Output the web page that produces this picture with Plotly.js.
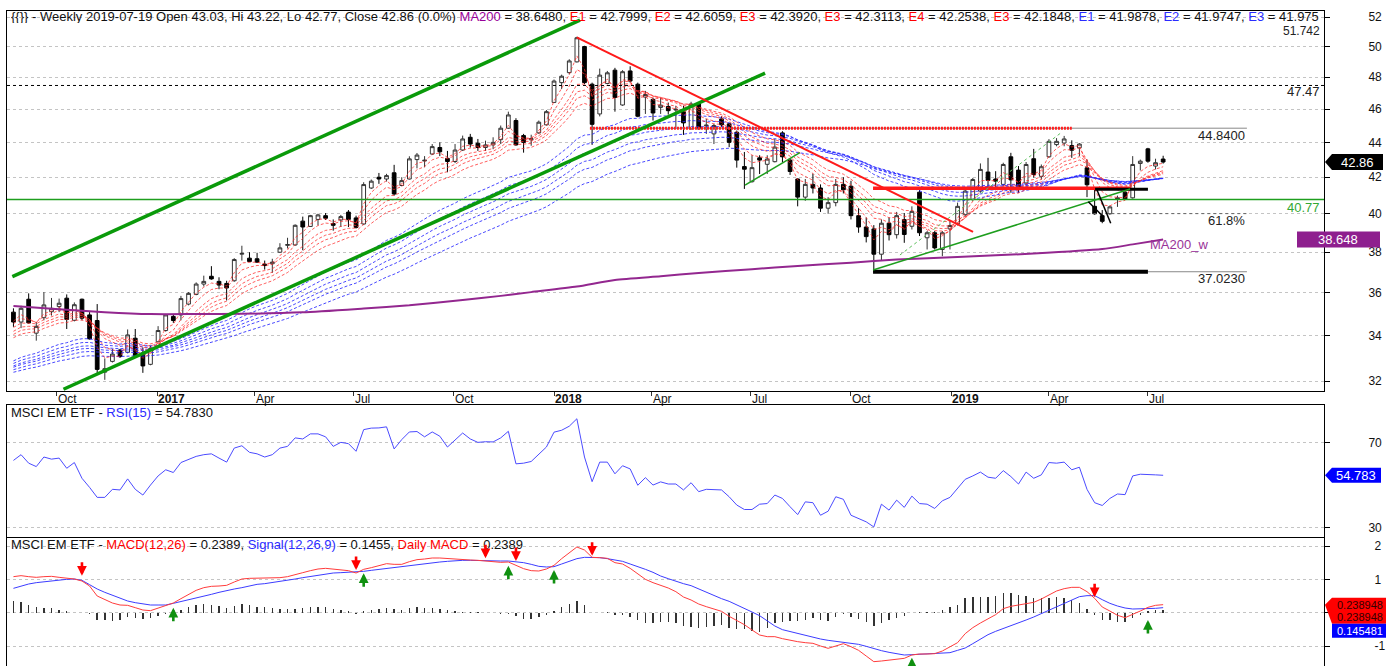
<!DOCTYPE html>
<html><head><meta charset="utf-8">
<script src="https://cdn.plot.ly/plotly-3.0.1.min.js"></script>
<style>html,body{margin:0;padding:0;background:#fff;}#chart{width:1386px;height:666px;}</style>
</head><body><div id="chart"></div>
<script>
// ---------- DATA ----------
const firstWeekUTC = Date.UTC(2016, 7, 22); // weekly candles (Mondays)
const opens = [35.08,34.62,35.69,34.11,34.82,35.10,35.34,35.74,34.70,35.69,
34.95,34.69,32.38,32.85,33.35,33.25,33.88,33.20,32.72,33.72,
34.23,34.88,34.95,35.46,35.92,36.42,36.80,36.55,36.45,36.58,
37.90,37.70,37.67,37.40,37.42,38.00,38.35,38.37,39.61,39.33,
39.70,39.90,39.48,39.67,40.09,39.78,39.46,41.40,42.00,41.90,
42.25,41.54,41.90,43.00,42.92,43.32,43.70,43.07,42.89,43.55,
44.30,43.95,43.70,43.85,44.16,44.84,45.30,44.40,44.15,44.56,
45.04,46.41,47.65,48.29,48.99,50.00,47.55,45.70,47.60,48.45,
46.25,48.40,47.55,46.74,46.60,46.10,46.16,45.94,45.84,44.80,
46.31,44.98,44.50,45.40,45.10,44.60,42.60,41.75,43.10,42.73,
42.88,44.56,42.97,41.90,40.90,41.60,41.40,40.30,40.60,41.60,
41.50,39.90,39.30,39.20,37.90,39.50,38.90,39.69,39.34,41.17,
38.74,39.00,38.14,39.20,39.47,39.95,40.77,41.23,42.29,41.90,
41.60,43.16,42.40,41.68,43.05,42.05,43.16,43.87,43.96,43.81,
43.68,42.53,40.40,39.90,40.00,40.77,41.17,40.86,42.78,43.62,
42.63,43.03];
const highs = [35.26,35.38,35.97,34.62,36.03,35.75,35.72,35.92,35.54,35.72,
35.08,35.46,32.98,33.40,33.40,34.28,34.30,33.47,33.55,34.43,
35.00,34.95,35.85,36.03,36.50,36.83,37.30,36.75,36.58,37.70,
38.33,38.00,37.97,37.58,37.67,38.46,38.74,39.44,39.85,39.94,
40.00,40.04,39.70,39.94,40.20,39.90,41.72,41.87,42.24,42.19,
42.70,42.00,43.19,43.38,43.20,43.90,44.00,43.50,43.90,44.40,
44.50,44.20,44.10,44.30,45.00,45.84,45.44,44.50,44.45,45.30,
45.94,47.85,48.16,49.16,50.66,50.05,47.65,48.55,48.40,48.60,
48.45,48.70,47.65,47.13,46.70,46.70,46.40,46.20,46.20,46.45,
46.40,45.40,45.10,45.56,45.16,44.70,43.44,43.25,43.25,43.25,
44.20,44.66,43.07,41.94,41.90,42.20,41.60,40.90,41.90,42.00,
41.80,40.30,39.80,39.40,39.70,39.80,40.10,40.04,40.40,41.32,
39.09,39.09,39.09,39.60,40.60,41.40,41.96,42.78,43.10,42.34,
42.82,43.39,42.63,42.86,43.62,42.72,44.19,44.25,44.38,44.12,
43.96,43.00,41.42,40.20,40.44,40.98,41.32,43.20,43.00,43.68,
43.05,43.22];
const lows = [34.40,34.34,34.55,33.77,34.70,34.92,35.08,34.30,34.65,34.70,
33.82,32.35,32.05,32.80,33.00,33.20,33.06,32.35,32.68,33.70,
34.18,34.58,34.70,35.40,35.88,36.30,36.63,36.17,35.63,36.53,
37.58,37.50,37.47,37.13,36.97,37.97,38.19,38.33,38.10,39.30,
39.39,39.67,39.11,39.30,39.30,39.22,39.40,41.35,41.63,41.76,
40.98,41.50,41.87,42.50,42.56,43.26,43.20,42.28,42.80,43.50,
43.70,43.50,43.50,43.60,43.90,44.80,43.80,43.40,43.80,44.50,
45.00,46.37,47.25,48.18,48.95,47.55,43.85,45.55,47.55,45.84,
46.20,47.65,45.50,45.70,45.30,45.70,45.66,44.90,44.44,44.76,
44.76,44.50,43.90,44.90,43.72,42.54,41.35,41.70,42.18,42.18,
42.84,42.84,42.13,40.40,40.70,41.10,40.10,40.00,40.40,41.10,
39.70,39.00,38.50,37.02,37.60,38.60,38.70,38.48,39.17,38.83,
38.14,38.14,37.80,38.14,39.38,39.86,40.68,41.14,41.32,41.28,
41.50,41.14,41.14,41.53,41.98,41.87,43.10,43.77,43.77,43.10,
43.20,40.90,39.95,39.50,39.95,40.37,40.75,40.82,42.38,42.82,
42.44,42.77];
const closes = [34.62,35.26,34.58,34.42,35.42,35.26,35.50,34.74,35.43,34.80,
33.85,32.50,32.53,33.17,33.06,34.03,33.10,32.65,33.42,34.23,
34.95,34.69,35.72,35.97,36.42,36.55,36.67,36.37,36.23,37.63,
37.94,37.53,37.50,37.33,37.50,38.22,38.39,39.39,39.30,39.90,
39.94,39.76,39.39,39.85,39.70,39.28,41.59,41.78,41.90,42.09,
41.07,41.81,43.04,43.26,42.96,43.75,43.45,42.89,43.55,44.20,
43.90,43.70,43.85,44.00,44.84,45.64,43.85,44.00,44.22,45.20,
45.84,47.75,48.06,49.05,50.59,47.65,45.07,48.13,48.28,46.72,
48.35,47.75,45.56,46.90,45.76,46.24,45.90,45.98,45.16,46.31,
44.80,45.02,45.00,45.04,44.00,42.97,42.45,42.54,42.97,43.03,
43.72,43.16,42.32,40.90,41.60,41.40,40.30,40.60,41.60,41.30,
39.90,39.30,38.80,37.90,39.50,38.90,39.90,38.91,40.13,39.00,
39.00,38.22,39.00,39.38,40.40,41.23,41.87,42.44,41.82,41.78,
42.72,41.85,41.32,42.72,42.15,42.59,44.06,44.06,44.20,43.54,
43.90,41.58,40.00,39.60,40.37,40.86,40.80,42.72,42.91,42.91,
42.82,42.86];

// Guppy-style EMA ribbons (periods and starting values read at left edge)
const redPeriods = [3,5,8,10,12,15];
const redSeeds = [34.7,34.5,34.3,34.1,33.95,33.8];
const bluePeriods = [30,35,40,45,50,60];
const blueSeeds = [32.75,32.65,32.55,32.5,32.4,32.3];

// MA200 (weekly) read at sample candles
const ma200Idx = [0,6,12,18,24,30,38,46,52,59,64,68,74,79,85,90,97,103,110,116,124,134,143,147,151];
const ma200Vals = [35.37,35.22,35.08,34.99,34.99,35.0,35.07,35.25,35.4,35.65,35.85,36.03,36.3,36.62,36.8,36.96,37.15,37.31,37.47,37.63,37.76,37.93,38.16,38.4,38.65];

const rsi = [61.8,64.5,60.5,58.9,63.4,62.4,62.9,58.1,60.8,53.4,
49.1,44.4,44.4,48.2,47.9,53.1,48.2,45.5,50.2,54.5,
57.4,56.1,60.8,62.1,63.7,64.5,64.9,62.9,61.0,67.6,
68.7,65.6,64.9,63.4,64.5,67.6,68.4,72.4,71.9,74.3,
74.3,72.9,68.4,70.3,69.7,66.1,76.3,77.0,77.1,77.6,
67.2,71.6,75.2,75.4,72.9,75.2,73.2,68.1,71.3,74.7,
71.9,70.3,70.6,70.5,72.4,75.5,60.2,60.5,61.3,64.5,
68.1,75.1,76.0,77.9,81.4,63.4,51.8,61.0,61.0,55.5,
59.3,57.8,50.1,53.7,50.2,51.7,50.7,50.7,47.9,51.3,
47.1,48.2,48.2,47.9,44.7,40.8,38.7,38.7,41.2,41.5,
45.5,43.9,40.0,36.3,42.3,41.9,36.0,37.9,44.7,43.5,
36.0,34.4,32.9,30.5,41.2,38.4,43.1,39.7,45.0,41.5,
41.2,39.2,42.8,44.4,48.7,52.9,54.5,56.3,53.9,53.4,
57.0,54.2,50.7,56.3,53.4,55.0,60.8,60.5,61.0,57.4,
58.6,48.2,41.9,40.6,43.9,46.0,45.7,54.5,55.3,55.3,
55.0,54.8];

const macd = [1.08,1.11,1.08,1.06,1.08,1.09,1.06,1.04,1.01,0.95,
0.80,0.50,0.39,0.29,0.23,0.22,0.15,0.08,0.06,0.13,
0.20,0.29,0.42,0.55,0.67,0.75,0.79,0.80,0.82,0.92,
1.01,1.03,1.03,1.03,1.03,1.05,1.08,1.13,1.20,1.26,
1.31,1.33,1.30,1.28,1.26,1.19,1.30,1.35,1.41,1.47,
1.45,1.45,1.53,1.59,1.61,1.64,1.64,1.62,1.61,1.60,
1.58,1.57,1.55,1.53,1.51,1.52,1.42,1.32,1.26,1.25,
1.31,1.42,1.62,1.80,1.97,1.88,1.66,1.65,1.63,1.50,
1.46,1.33,1.17,1.00,0.90,0.83,0.74,0.63,0.47,0.38,
0.26,0.18,0.10,0.04,-0.11,-0.24,-0.36,-0.52,-0.67,-0.72,
-0.72,-0.78,-0.83,-0.87,-0.90,-0.92,-1.00,-1.07,-1.00,-0.93,
-1.02,-1.13,-1.30,-1.47,-1.45,-1.42,-1.39,-1.37,-1.27,-1.24,
-1.24,-1.23,-1.15,-1.03,-0.90,-0.63,-0.45,-0.31,-0.18,-0.06,
0.12,0.19,0.23,0.28,0.31,0.41,0.52,0.65,0.72,0.76,
0.76,0.63,0.43,0.17,0.05,-0.08,-0.15,-0.06,0.05,0.16,
0.22,0.24];
const signal = [0.73,0.80,0.86,0.90,0.93,0.96,0.99,1.00,1.01,0.97,
0.84,0.71,0.61,0.53,0.44,0.35,0.30,0.27,0.23,0.23,
0.23,0.28,0.33,0.39,0.44,0.50,0.55,0.61,0.67,0.71,
0.75,0.80,0.85,0.87,0.90,0.93,0.97,1.01,1.05,1.09,
1.13,1.16,1.19,1.20,1.21,1.22,1.24,1.27,1.30,1.33,
1.35,1.37,1.40,1.43,1.47,1.50,1.52,1.54,1.56,1.57,
1.57,1.56,1.56,1.55,1.55,1.55,1.53,1.50,1.45,1.39,
1.37,1.38,1.46,1.53,1.62,1.66,1.66,1.65,1.62,1.58,
1.54,1.46,1.39,1.30,1.21,1.10,1.02,0.94,0.87,0.81,
0.71,0.60,0.51,0.42,0.34,0.24,0.13,0.02,-0.09,-0.25,
-0.40,-0.51,-0.57,-0.62,-0.68,-0.75,-0.79,-0.83,-0.86,-0.88,
-0.90,-0.95,-1.01,-1.08,-1.14,-1.19,-1.24,-1.27,-1.26,-1.25,
-1.25,-1.24,-1.22,-1.20,-1.13,-1.06,-0.93,-0.79,-0.66,-0.56,
-0.48,-0.39,-0.31,-0.22,-0.13,-0.03,0.07,0.19,0.29,0.39,
0.48,0.51,0.51,0.39,0.28,0.20,0.14,0.11,0.11,0.11,
0.13,0.15];
const sellIdx = [9,45,62,66,76,142];
const sellVal = [1.11,1.28,1.63,1.55,1.71,0.46];
const buyIdx = [21,46,65,71,118,149];
const buyVal = [0.15,1.18,1.41,1.28,-1.35,-0.22];

// Drawn trend lines / levels (date, price)
const upperChX = ['2016-08-21','2018-01-24 21:00'], upperChY = [36.78,51.80];
const lowerChX = ['2016-10-07','2018-07-14'], lowerChY = [31.65,48.26];
const midGreenX = ['2018-06-25 14:00','2018-08-15'], midGreenY = [41.56,43.40];
const supportX = ['2018-10-21 07:00','2019-06-14 14:00'], supportY = [37.11,41.34];
const dashGreenX = ['2018-11-15','2019-04-13'], dashGreenY = [37.86,44.61];
const resistX = ['2018-01-21 22:00','2019-01-21 05:00'], resistY = [50.62,39.05];
const level4484 = 44.84, level4138 = 41.38, level3702 = 37.023, level4133 = 41.33;
const level4747 = 47.47, level4077 = 40.77, fib618 = 40.009, level51742 = 51.742;
const arrow1X = ['2019-05-07 05:00','2019-05-21'], arrow1Y = [40.65,39.84];
const arrow2X = ['2019-05-14 22:00','2019-05-27 19:00'], arrow2Y = [41.33,39.50];

const monthTicks = ['2016-10-01','2017-01-01','2017-04-01','2017-07-01','2017-10-01','2018-01-01','2018-04-01','2018-07-01','2018-10-01','2019-01-01','2019-04-01','2019-07-01'];
const monthLabels = ['Oct','<b>2017</b>','Apr','Jul','Oct','<b>2018</b>','Apr','Jul','Oct','<b>2019</b>','Apr','Jul'];
const priceTicks = [32,34,36,38,40,42,44,46,48,50,52];

// ---------- BUILD ----------
const dates = opens.map((_, i) => new Date(firstWeekUTC + i * 7 * 864e5).toISOString().slice(0, 10));
const xr = ['2016-08-16 02:00', '2019-12-09 21:00'];
function ema(src, p, seed) { const a = 2 / (p + 1); let v = seed; return src.map(c => (v = v + a * (c - v))); }

const W = 1386, H = 666, ML = 7, MR = 62, MT = 11, MB = 0;
const PW = W - ML - MR, PH = H - MT - MB;
const pxX = px => (px - ML) / PW;
const pyY = py => (H - MB - py) / PH;
const mainDom = [pyY(391), 1], rsiDom = [pyY(537), pyY(405)], macdDom = [0, pyY(537)];
const mainR = [Math.log10(31.576), Math.log10(52.43)];
const rsiR = [25.76, 87.88], macdR = [-1.6, 2.27];
const pyMain = v => 391 - (Math.log10(v) - mainR[0]) / (mainR[1] - mainR[0]) * 380;
const pyRsi = v => 537 - (v - rsiR[0]) / (rsiR[1] - rsiR[0]) * 132;
const pyMacd = v => 666 - (v - macdR[0]) / (macdR[1] - macdR[0]) * 129;

const traces = [];
bluePeriods.forEach((p, k) => traces.push({type:'scatter', mode:'lines', x:dates, y:ema(closes, p, blueSeeds[k]), xaxis:'x', yaxis:'y', line:{color:'rgba(40,40,255,0.85)', width:1, dash:'3px,2px'}, hoverinfo:'skip'}));
redPeriods.forEach((p, k) => traces.push({type:'scatter', mode:'lines', x:dates, y:ema(closes, p, redSeeds[k]), xaxis:'x', yaxis:'y', line:{color:'rgba(255,40,40,0.75)', width:1, dash:'3px,2px'}, hoverinfo:'skip'}));
traces.push({type:'scatter', mode:'lines', x:ma200Idx.map(i => dates[i]), y:ma200Vals, xaxis:'x', yaxis:'y', line:{color:'#93278f', width:2, shape:'spline', smoothing:0.6}});
traces.push({type:'candlestick', x:dates, open:opens, high:highs, low:lows, close:closes, xaxis:'x', yaxis:'y',
  increasing:{line:{color:'#333', width:1}, fillcolor:'#ffffff'},
  decreasing:{line:{color:'#000', width:1}, fillcolor:'#000000'}, whiskerwidth:0});
function seg(x, y, color, width, dash) { traces.push({type:'scatter', mode:'lines', x:x, y:y, xaxis:'x', yaxis:'y', line:{color:color, width:width, dash:dash || 'solid'}, hoverinfo:'skip'}); }
seg(xr, [level4747, level4747], '#000', 1, '3px,3px');
seg(xr, [level4077, level4077], '#1e9e1e', 1.5);
seg(['2018-02-03','2019-09-30'], [level4484, level4484], '#888', 1);
seg(['2018-02-03','2019-04-22'], [level4484, level4484], '#ff2020', 3, '2px,1px');
seg(['2019-01-05','2019-09-30'], [fib618, fib618], '#666', 1, '3px,3px');
seg(['2019-07-01','2019-09-30'], [level3702, level3702], '#888', 1);
seg(['2018-10-21 07:00','2019-07-01'], [level3702, level3702], '#000', 4);
seg(['2018-10-21 07:00','2019-06-14 14:00'], [level4138, level4138], '#ff1a1a', 3.5);
seg(['2019-05-13 10:00','2019-07-01'], [level4133, level4133], '#000', 3);
seg(dashGreenX, dashGreenY, '#5cbf5c', 1, '3px,3px');
seg(midGreenX, midGreenY, '#1e9e1e', 1.5);
seg(supportX, supportY, '#1e9e1e', 1.5);
seg(upperChX, upperChY, '#0a9a0a', 3.5);
seg(lowerChX, lowerChY, '#0a9a0a', 3.5);
seg(resistX, resistY, '#ff1a1a', 2);
seg(arrow1X, arrow1Y, '#000', 1.5);
seg(arrow2X, arrow2Y, '#000', 1.5);

// RSI
traces.push({type:'scatter', mode:'lines', x:dates, y:rsi, xaxis:'x2', yaxis:'y2', line:{color:'#4b4bff', width:1}});
// MACD
const hist = macd.map((m, i) => +(m - signal[i]).toFixed(3));
traces.push({type:'bar', x:dates, y:hist, xaxis:'x3', yaxis:'y3', width:1.3 * 864e5, marker:{color:'#333', line:{width:0}}});
traces.push({type:'scatter', mode:'lines', x:dates, y:signal, xaxis:'x3', yaxis:'y3', line:{color:'#3c3cff', width:1}});
traces.push({type:'scatter', mode:'lines', x:dates, y:macd, xaxis:'x3', yaxis:'y3', line:{color:'#ff3c3c', width:1}});

const FONT = 'Liberation Sans, Arial, sans-serif';
const R = 'color:#ff0000', B = 'color:#2b2bff', P = 'color:#990099';
const sp = (s, c) => `<span style="${c}">${s}</span>`;
const mainTitle = '{{}} - Weekly 2019-07-19 Open 43.03, Hi 43.22, Lo 42.77, Close 42.86 (0.0%) ' + sp('MA200', P) + ' = 38.6480, ' +
  sp('E1', R) + ' = 42.7999, ' + sp('E2', R) + ' = 42.6059, ' + sp('E3', R) + ' = 42.3920, ' + sp('E3', R) + ' = 42.3113, ' +
  sp('E4', R) + ' = 42.2538, ' + sp('E3', R) + ' = 42.1848, ' + sp('E1', B) + ' = 41.9878, ' + sp('E2', B) + ' = 41.9747, ' + sp('E3', B) + ' = 41.975';
const rsiTitle = 'MSCI EM ETF - ' + sp('RSI(15)', B) + ' = 54.7830';
const macdTitle = 'MSCI EM ETF - ' + sp('MACD(12,26)', R) + ' = 0.2389, ' + sp('Signal(12,26,9)', B) + ' = 0.1455, ' + sp('Daily MACD', R) + ' = 0.2389';

const ann = [];
function txt(text, x, y, opts) { ann.push(Object.assign({text:text, x:x, y:y, xref:'paper', yref:'paper', showarrow:false, xanchor:'left', yanchor:'middle', font:{family:FONT, size:13, color:'#111'}}, opts || {})); }
txt(mainTitle, pxX(9), pyY(16), {height:14});
txt(rsiTitle, pxX(9), pyY(412));
txt(macdTitle, pxX(9), pyY(544));
txt('44.8400', pxX(1247), pyY(pyMain(level4484) + 7), {xanchor:'right', font:{family:FONT, size:13, color:'#222'}});
txt('61.8%', pxX(1247), pyY(pyMain(fib618) + 7), {xanchor:'right', font:{family:FONT, size:13, color:'#222'}});
txt('37.0230', pxX(1247), pyY(pyMain(level3702) + 7), {xanchor:'right', font:{family:FONT, size:13, color:'#222'}});
txt('47.47', pxX(1322), pyY(pyMain(level4747) + 6), {xanchor:'right', font:{family:FONT, size:13, color:'#222'}});
txt('51.742', pxX(1322), pyY(pyMain(level51742) + 10), {xanchor:'right', height:13, font:{family:FONT, size:12, color:'#222'}});
txt('40.77', pxX(1322), pyY(pyMain(level4077) + 8), {xanchor:'right', font:{family:FONT, size:13, color:'#33a833'}});
txt('MA200_w', pxX(1148), pyY(pyMain(38.648) + 5), {font:{family:FONT, size:13, color:'#993399'}});

const shapes = [];
function tag(x0, x1, cy, h, color, arrow) {
  const t = cy - h / 2, b = cy + h / 2;
  let path;
  if (arrow) path = `M${pxX(x0)},${pyY(cy)} L${pxX(x0 + 7)},${pyY(t)} L${pxX(x1)},${pyY(t)} L${pxX(x1)},${pyY(b)} L${pxX(x0 + 7)},${pyY(b)} Z`;
  else path = `M${pxX(x0)},${pyY(t)} L${pxX(x1)},${pyY(t)} L${pxX(x1)},${pyY(b)} L${pxX(x0)},${pyY(b)} Z`;
  shapes.push({type:'path', xref:'paper', yref:'paper', path:path, fillcolor:color, line:{width:0}, layer:'above'});
}
const cLast = pyMain(42.86);
tag(1325, 1383, cLast, 16, '#000', true);
txt('42.86', pxX(1358), pyY(cLast), {xanchor:'center', font:{family:FONT, size:13, color:'#fff'}});
const cMa = pyMain(38.648);
tag(1297, 1380, cMa, 16, '#8e1f8e', false);
txt('38.648', pxX(1338), pyY(cMa), {xanchor:'center', font:{family:FONT, size:13, color:'#fff'}});
const cR = pyRsi(54.783);
tag(1325, 1381, cR, 15, '#0000ff', true);
txt('54.783', pxX(1356), pyY(cR), {xanchor:'center', font:{family:FONT, size:13, color:'#fff'}});
const cM = pyMacd(0.2389);
shapes.push({type:'path', xref:'paper', yref:'paper', layer:'above', fillcolor:'#ff0000', line:{width:0},
  path:`M${pxX(1325)},${pyY(cM)} L${pxX(1332)},${pyY(cM - 7)} L${pxX(1390)},${pyY(cM - 7)} L${pxX(1390)},${pyY(cM + 19)} L${pxX(1332)},${pyY(cM + 19)} Z`});
shapes.push({type:'rect', xref:'paper', yref:'paper', layer:'above', fillcolor:'#0000ff', line:{width:0},
  x0:pxX(1332), x1:pxX(1390), y0:pyY(cM + 19), y1:pyY(cM + 33)});
const smallBox = {family:FONT, size:11, color:'#300'};
txt('0.238948', pxX(1335), pyY(cM), {font:smallBox, height:12});
txt('0.238948', pxX(1335), pyY(cM + 12.5), {font:smallBox, height:12});
txt('0.145481', pxX(1335), pyY(cM + 26), {font:{family:FONT, size:11, color:'#fff'}, height:12});

sellIdx.forEach((i, k) => ann.push({x:dates[i], y:sellVal[k], xref:'x3', yref:'y3', text:'', showarrow:true, arrowhead:2, arrowsize:0.75, arrowwidth:2.6, arrowcolor:'#ff0000', ax:0, ay:-15}));
buyIdx.forEach((i, k) => ann.push({x:dates[i], y:buyVal[k], xref:'x3', yref:'y3', text:'', showarrow:true, arrowhead:2, arrowsize:0.75, arrowwidth:2.6, arrowcolor:'#109010', ax:0, ay:15}));

const gridY = {showgrid:true, gridcolor:'#c4c4c4', griddash:'dot', gridwidth:1, zeroline:false, side:'right', ticks:'outside', ticklen:5, tickcolor:'#000',
  showline:true, mirror:true, linecolor:'#000', linewidth:1, tickfont:{family:FONT, size:12, color:'#111'}, fixedrange:true};
const layout = {
  width:W, height:H, margin:{l:ML, r:MR, t:MT, b:MB, pad:0}, paper_bgcolor:'#fff', plot_bgcolor:'#fff', showlegend:false, hovermode:false,
  font:{family:FONT, size:12, color:'#111'}, bargap:0,
  xaxis:{type:'date', range:xr, anchor:'y', tickvals:monthTicks, ticktext:monthLabels, ticks:'outside', ticklen:4, tickcolor:'#333',
    ticklabelposition:'outside right', showgrid:false, zeroline:false, showline:true, mirror:true, linecolor:'#000', rangeslider:{visible:false},
    tickfont:{family:FONT, size:12, color:'#111'}, ticklabelstandoff:-3},
  xaxis2:{type:'date', range:xr, anchor:'y2', matches:'x', showticklabels:false, ticks:'', showgrid:false, zeroline:false, showline:true, mirror:true, linecolor:'#000'},
  xaxis3:{type:'date', range:xr, anchor:'y3', matches:'x', showticklabels:false, ticks:'', showgrid:false, zeroline:false, showline:false},
  yaxis:Object.assign({}, gridY, {type:'log', domain:mainDom, range:mainR, tickvals:priceTicks, ticktext:priceTicks.map(String), ticklabelstandoff:36}),
  yaxis2:Object.assign({}, gridY, {domain:rsiDom, range:rsiR, tickvals:[30,70], ticktext:['30','70'], ticklabelstandoff:36}),
  yaxis3:Object.assign({}, gridY, {domain:macdDom, range:macdR, tickvals:[-1,0,1,2], ticktext:['-1','','1','2'], ticklabelstandoff:42}),
  annotations:ann, shapes:shapes
};
Plotly.newPlot('chart', traces, layout, {staticPlot:true, displayModeBar:false});
</script></body></html>
